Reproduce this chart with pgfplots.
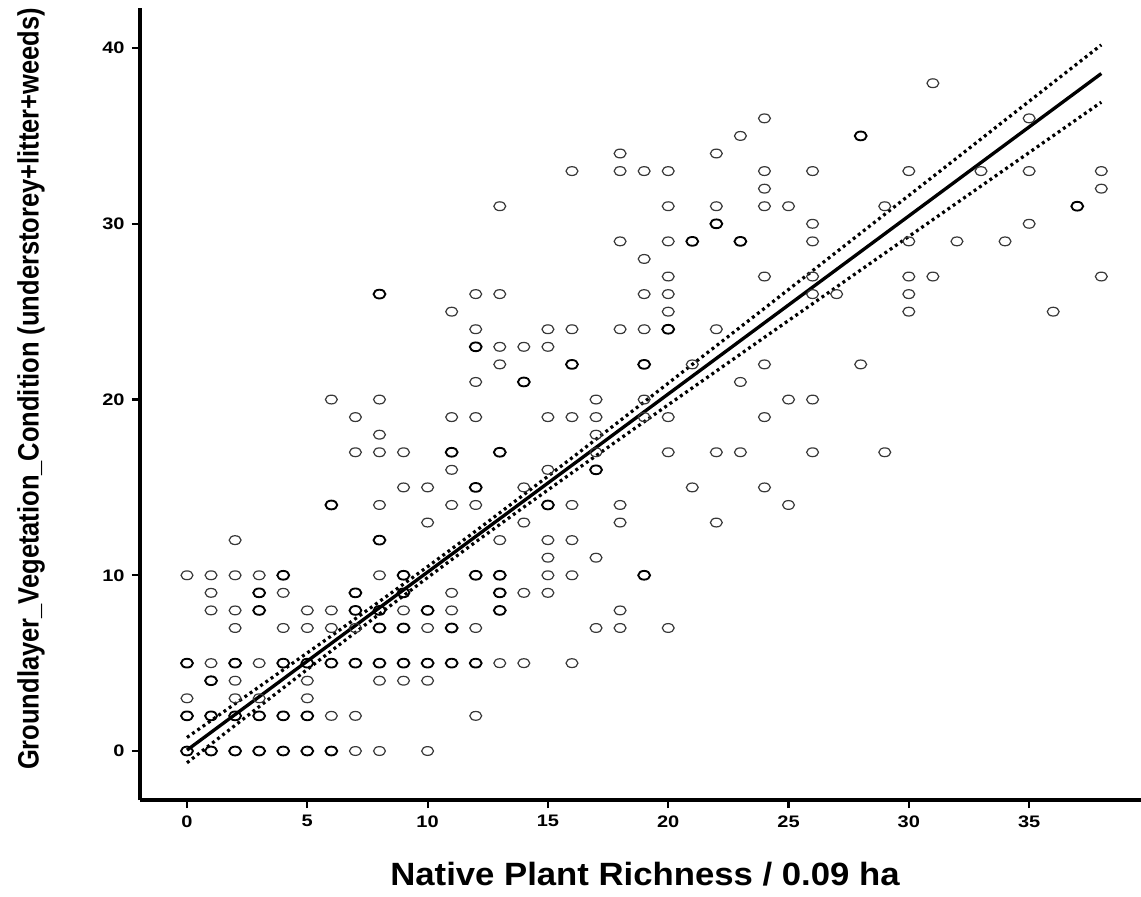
\documentclass[border=0pt]{standalone}
\usepackage{pgfplots}
\pgfplotsset{compat=1.18}
\usepackage{fontspec}
\setmainfont{Liberation Sans}
\begin{document}
\begin{tikzpicture}
\begin{axis}[
  at={(0,0)}, anchor=south west,
  scale only axis, width=750.75pt, height=594pt,
  xmin=-1.953, xmax=39.65, ymin=-2.788, ymax=42.28,
  axis lines=left, axis line style={-, line width=2.3pt},
  xtick={0,5,...,35}, ytick={0,10,...,40},
  tick align=outside, major tick length=6pt,
  tick style={line width=1.6pt, black},
  /pgf/number format/assume math mode=true,
  ticklabel style={font=\fontsize{12.5}{13}\selectfont\bfseries},
  xticklabel={\scalebox{1.2}[1]{\pgfmathprintnumber{\tick}}},
  yticklabel={\scalebox{1.2}[1]{\pgfmathprintnumber{\tick}}},
  xticklabel style={yshift=-2pt},
  yticklabel style={xshift=-2pt},
  clip=false,
  xlabel={\resizebox{382pt}{17.5pt}{\bfseries Native Plant Richness / 0.09 ha}},
  xlabel style={at={(axis description cs:0.5045,-0.0934)}, anchor=center, inner sep=0pt},
  ylabel={\resizebox{571.5pt}{16pt}{\bfseries Groundlayer\_Vegetation\_Condition (understorey+litter+weeds)}},
  ylabel style={at={(axis description cs:-0.1089,0.519)}, anchor=center, inner sep=0pt},
]
% single observations
\addplot[only marks, mark=o, mark size=3.3pt, mark options={xscale=1.35, line width=0.9pt, draw=black!78}] coordinates {
(7,0)(8,0)(10,0)
(6,2)(7,2)(12,2)
(0,3)(2,3)(3,3)(5,3)
(2,4)(5,4)(8,4)(9,4)(10,4)
(1,5)(3,5)(13,5)(14,5)(16,5)
(2,7)(4,7)(5,7)(6,7)(7,7)(10,7)(12,7)(17,7)(18,7)(20,7)
(1,8)(2,8)(5,8)(6,8)(9,8)(11,8)(18,8)
(1,9)(4,9)(11,9)(14,9)(15,9)
(0,10)(1,10)(2,10)(3,10)(8,10)(15,10)(16,10)
(15,11)(17,11)
(2,12)(13,12)(15,12)(16,12)
(10,13)(14,13)(18,13)(22,13)
(8,14)(11,14)(12,14)(16,14)(18,14)(25,14)
(9,15)(10,15)(14,15)(21,15)(24,15)
(11,16)(15,16)
(7,17)(8,17)(9,17)(17,17)(20,17)(22,17)(23,17)(26,17)(29,17)
(8,18)(17,18)
(7,19)(11,19)(12,19)(15,19)(16,19)(17,19)(19,19)(20,19)(24,19)
(6,20)(8,20)(17,20)(19,20)(25,20)(26,20)
(12,21)(23,21)
(13,22)(21,22)(24,22)(28,22)
(13,23)(14,23)(15,23)
(12,24)(15,24)(16,24)(18,24)(19,24)(22,24)
(11,25)(20,25)(30,25)(36,25)
(12,26)(13,26)(19,26)(20,26)(26,26)(27,26)(30,26)
(20,27)(24,27)(26,27)(30,27)(31,27)(38,27)
(19,28)
(18,29)(20,29)(26,29)(30,29)(32,29)(34,29)
(26,30)(35,30)
(13,31)(20,31)(22,31)(24,31)(25,31)(29,31)
(24,32)(38,32)
(16,33)(18,33)(19,33)(20,33)(24,33)(26,33)(30,33)(33,33)(35,33)(38,33)
(18,34)(22,34)
(23,35)
(24,36)(35,36)
(31,38)
};
% repeated observations (overplotted)
\addplot[only marks, mark=o, mark size=3.3pt, mark options={xscale=1.35, line width=1.4pt, draw=black}] coordinates {
(0,0)(1,0)(2,0)(3,0)(4,0)(5,0)(6,0)
(0,2)(1,2)(2,2)(3,2)(4,2)(5,2)
(1,4)
(0,5)(2,5)(4,5)(5,5)(6,5)(7,5)(8,5)(9,5)(10,5)(11,5)(12,5)
(8,7)(9,7)(11,7)
(3,8)(7,8)(8,8)(10,8)(13,8)
(3,9)(7,9)(9,9)(13,9)
(4,10)(9,10)(12,10)(13,10)(19,10)
(8,12)(6,14)(15,14)(12,15)(17,16)(11,17)(13,17)(14,21)(16,22)(19,22)(12,23)(20,24)(8,26)(21,29)(23,29)(22,30)(37,31)(28,35)
};
% fitted line
\addplot[black, line width=2.5pt] coordinates {(0,0.05) (38,38.55)};
% 95% confidence band
\addplot[black, line width=2.4pt, dash pattern=on 2.2pt off 2.6pt] coordinates {
(0,0.77)(2,2.69)(4,4.62)(6,6.55)(8,8.51)(10,10.49)(11,11.50)(12,12.52)(14,14.59)(16,16.68)(18,18.80)(20,20.93)(22,23.06)(24,25.19)(26,27.33)(28,29.47)(30,31.61)(32,33.75)(34,35.90)(36,38.04)(38,40.18)};
\addplot[black, line width=2.4pt, dash pattern=on 2.2pt off 2.6pt] coordinates {
(0,-0.67)(2,1.46)(4,3.59)(6,5.70)(8,7.80)(10,9.87)(11,10.89)(12,11.90)(14,13.88)(16,15.83)(18,17.77)(20,19.70)(22,21.62)(24,23.54)(26,25.45)(28,27.37)(30,29.28)(32,31.19)(34,33.10)(36,35.01)(38,36.92)};
\end{axis}
\pgfresetboundingbox
\path[use as bounding box] (-105pt,-72pt) rectangle (750.75pt,600pt);
\end{tikzpicture}
\end{document}
